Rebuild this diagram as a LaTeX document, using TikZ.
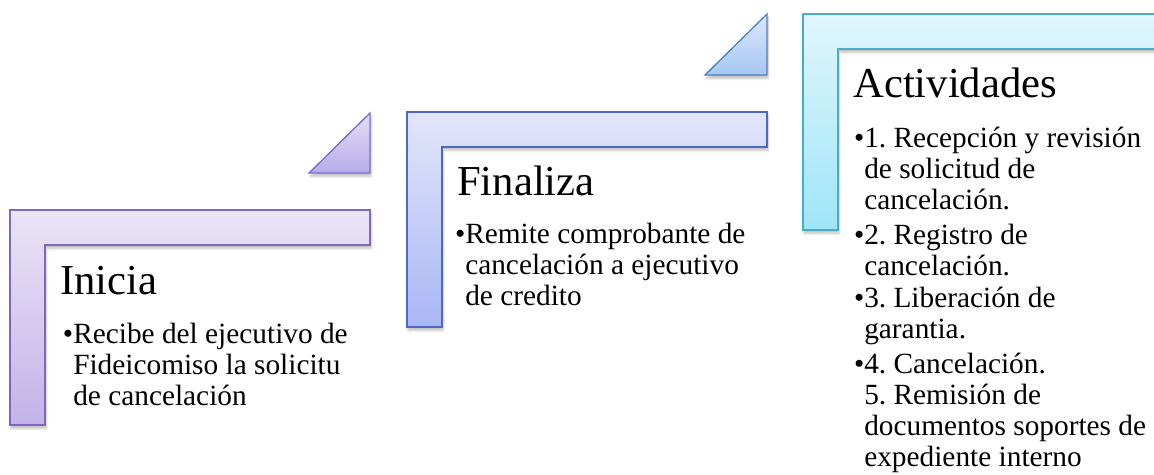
\documentclass[tikz,border=0pt]{standalone}
\usepackage{fontspec}
\setmainfont{Liberation Serif}
\usetikzlibrary{shadows.blur}
\frenchspacing

\definecolor{lilaLine}{HTML}{8066BE}
\definecolor{lilaTop}{HTML}{EAE4F6}
\definecolor{lilaBot}{HTML}{C3B3E8}
\definecolor{azulLine}{HTML}{4F67C6}
\definecolor{azulTop}{HTML}{E2E6FA}
\definecolor{azulBot}{HTML}{A9B7F5}
\definecolor{cianLine}{HTML}{4BACC6}
\definecolor{cianTop}{HTML}{E0F6FC}
\definecolor{cianBot}{HTML}{9FE5F8}
\definecolor{triLilaLine}{HTML}{7C6CCB}
\definecolor{triLilaTop}{HTML}{E6E0F8}
\definecolor{triLilaBot}{HTML}{B6ABEA}
\definecolor{triAzulLine}{HTML}{4F81BD}
\definecolor{triAzulTop}{HTML}{DCE8FC}
\definecolor{triAzulBot}{HTML}{A6C6F2}

\newcommand{\bul}{\llap{\textbullet}}

\begin{document}
\begin{tikzpicture}[x=0.75pt, y=-0.75pt,
        frame/.style n args={3}{
            draw=#1,
            line width=1pt,
            top color=#2,
            bottom color=#3,
            blur shadow={shadow xshift=0.8pt, shadow yshift=-2.5pt, shadow opacity=25, shadow blur steps=6}
        },
        title/.style = {anchor=base west, inner sep=0pt, font=\fontsize{32}{38}\selectfont},
        body/.style = {anchor=base west, inner sep=0pt, font=\fontsize{22}{23.25}\selectfont}]

        \useasboundingbox (0,0) rectangle (1154,475);

        % escalones
        \path[frame={lilaLine}{lilaTop}{lilaBot}]
            (10,210) -- (370,210) -- (370,245) -- (45,245) -- (45,425) -- (10,425) -- cycle;
        \path[frame={azulLine}{azulTop}{azulBot}]
            (407,112) -- (767,112) -- (767,147) -- (442,147) -- (442,327) -- (407,327) -- cycle;
        \path[frame={cianLine}{cianTop}{cianBot}]
            (803,14) -- (1170,14) -- (1170,49) -- (838,49) -- (838,230) -- (803,230) -- cycle;

        % flechas triangulares
        \path[frame={triLilaLine}{triLilaTop}{triLilaBot}]
            (309,173) -- (370,173) -- (370,113) -- cycle;
        \path[frame={triAzulLine}{triAzulTop}{triAzulBot}]
            (705,75) -- (767,75) -- (767,14) -- cycle;

        \node[title] (inicia) at (60,294) {Inicia};
        \node[body] (inicia-txt) at (73,343) {\begin{tabular}[t]{@{}l@{}}
            \bul Recibe del ejecutivo de\\ Fideicomiso la solicitu\\ de cancelación
        \end{tabular}};

        \node[title] (finaliza) at (457,195) {Finaliza};
        \node[body] (finaliza-txt) at (465,243) {\begin{tabular}[t]{@{}l@{}}
            \bul Remite comprobante de\\ cancelación a ejecutivo\\ de credito
        \end{tabular}};

        \node[title] (actividades) at (853,97) {Actividades};
        \node[body] (actividades-txt) at (864,147) {\begin{tabular}[t]{@{}l@{}}
            \bul 1. Recepción y revisión\\ de solicitud de\\ cancelación.\\[3pt]
            \bul 2. Registro de\\ cancelación.\\[1pt]
            \bul 3. Liberación de\\ garantia.\\[3pt]
            \bul 4. Cancelación.\\
            5. Remisión de\\ documentos soportes de\\ expediente interno
        \end{tabular}};
    \end{tikzpicture}
\end{document}
